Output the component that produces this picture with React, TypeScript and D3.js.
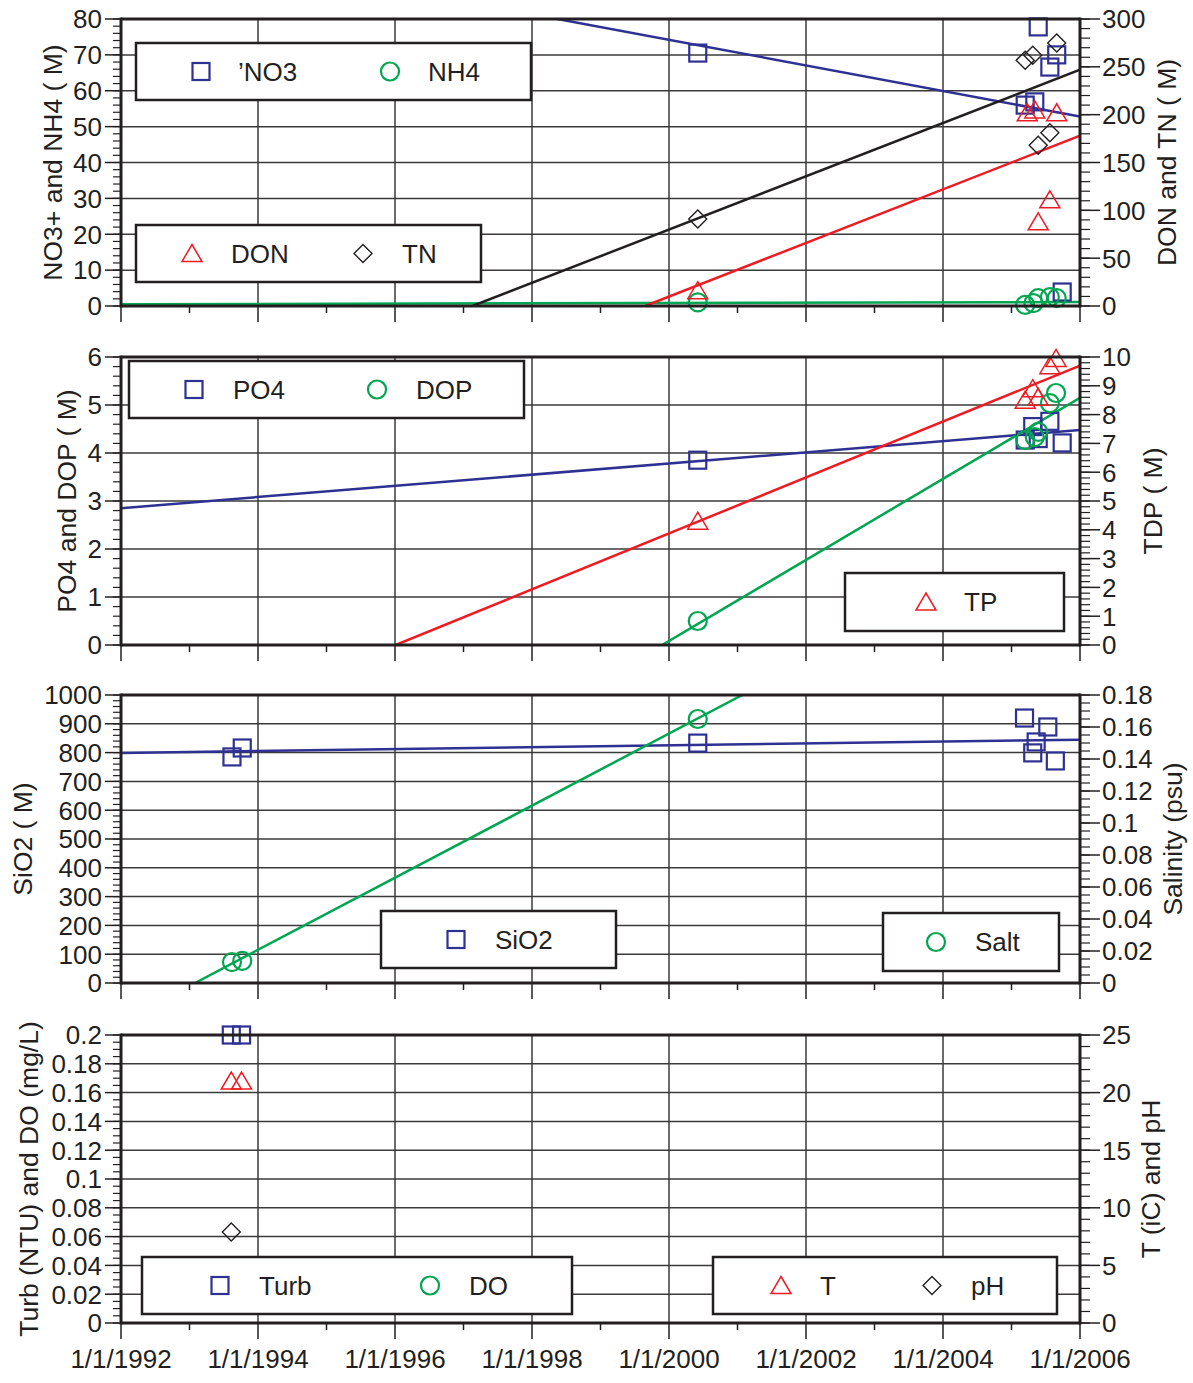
import React from 'react';
import * as d3 from 'd3';

type P = [number, number];

// ---------- x axis ----------
const yearTicks = d3.range(1992, 2007);
const yearLabelYears = [1992, 1994, 1996, 1998, 2000, 2002, 2004, 2006];
const yearLabel = (y: number) => `1/1/${y}`;

// ---------- Panel 1: NO3, NH4 (left) ; DON, TN (right) ----------
const no3: P[] = [[2000.42, 70.5], [2005.20, 56], [2005.34, 56.9], [2005.39, 77.8], [2005.56, 66.6], [2005.66, 70], [2005.74, 3.9]];
const nh4: P[] = [[2000.42, 1.0], [2005.20, 0.3], [2005.32, 0.8], [2005.39, 2.2], [2005.56, 2.5], [2005.66, 2.2]];
const don: P[] = [[2000.42, 16], [2005.23, 202], [2005.34, 205], [2005.39, 88], [2005.56, 111], [2005.66, 202]];
const tn: P[] = [[2000.42, 91], [2005.20, 257], [2005.31, 262], [2005.39, 168], [2005.56, 181], [2005.66, 275]];
const no3Fit: P[] = [[1992, 102.7], [2006, 52.8]];
const nh4Fit: P[] = [[1992, 0.5], [2006, 1.1]];
const donFit: P[] = [[1999.65, 0], [2006, 178]];
const tnFit: P[] = [[1997.13, 0], [2006, 247]];

// ---------- Panel 2: PO4, DOP (left) ; TP (right) ----------
const po4: P[] = [[2000.42, 3.85], [2005.20, 4.27], [2005.31, 4.55], [2005.39, 4.3], [2005.56, 4.66], [2005.74, 4.21]];
const dop: P[] = [[2000.42, 0.5], [2005.20, 4.27], [2005.34, 4.33], [2005.39, 4.44], [2005.56, 5.04], [2005.65, 5.25]];
const tp: P[] = [[2000.42, 4.3], [2005.20, 8.5], [2005.31, 8.9], [2005.39, 8.6], [2005.56, 9.7], [2005.65, 9.95]];
const po4Fit: P[] = [[1992, 2.85], [2006, 4.48]];
const dopFit: P[] = [[1999.9, 0], [2006, 5.15]];
const tpFit: P[] = [[1996.01, 0], [2006, 9.7]];

// ---------- Panel 3: SiO2 (left) ; Salt (right) ----------
const sio2: P[] = [[1993.62, 785], [1993.77, 816], [2000.42, 833], [2005.19, 920], [2005.36, 837], [2005.31, 799], [2005.53, 889], [2005.64, 771]];
const salt: P[] = [[1993.62, 0.0131], [1993.77, 0.0138], [2000.42, 0.165]];
const sio2Fit: P[] = [[1992, 799], [2006, 845]];
const saltFit: P[] = [[1993.08, 0], [2001.07, 0.18]];

// ---------- Panel 4: Turb, DO (left) ; T, pH (right) ----------
const turb: P[] = [[1993.61, 0.2], [1993.76, 0.2]];
const doVals: P[] = [];
const temp: P[] = [[1993.61, 21], [1993.76, 21]];
const ph: P[] = [[1993.61, 7.9]];

const BLUE = '#2e3192';
const GREEN = '#00a651';
const RED = '#ed1c24';
const BLACK = '#231f20';
const FONT = '"Liberation Sans", Arial, Helvetica, sans-serif';
const TICK_FS = 26;
const TITLE_FS = 26.5;
const LEGEND_FS = 26;

const X0 = 121, X1 = 1080;
const x = d3.scaleLinear().domain([1992, 2006]).range([X0, X1]);

type MarkerType = 'square' | 'circle' | 'triangle' | 'diamond';

function Marker({ type, cx, cy, color }: { type: MarkerType; cx: number; cy: number; color: string }) {
  if (type === 'square') return <rect x={cx - 8.5} y={cy - 8.5} width={17} height={17} fill="none" stroke={color} strokeWidth={2.2} />;
  if (type === 'circle') return <circle cx={cx} cy={cy} r={9} fill="none" stroke={color} strokeWidth={2.2} />;
  if (type === 'triangle') return <path d={`M${cx},${cy - 9}L${cx + 10},${cy + 8}L${cx - 10},${cy + 8}Z`} fill="none" stroke={color} strokeWidth={1.5} />;
  return <path d={`M${cx},${cy - 9}L${cx + 9},${cy}L${cx},${cy + 9}L${cx - 9},${cy}Z`} fill="none" stroke={color} strokeWidth={1.4} />;
}

interface Series { data: P[]; axis: 'left' | 'right'; marker: MarkerType; color: string }
interface Fit { data: P[]; axis: 'left' | 'right'; color: string }
interface LegendItem { marker: MarkerType; color: string; label: string; mx: number; tx: number }
interface Legend { x: number; y: number; w: number; h: number; items: LegendItem[] }

interface PanelProps {
  id: string;
  top: number; bottom: number;
  left: { max: number; step: number; minor: number; title: string; tx: number; dec: number };
  right: { max: number; step: number; minor: number; title: string; tx: number; dec: number };
  series: Series[]; fits: Fit[]; legends: Legend[]; xLabels: boolean;
}

const fmt = (v: number, dec: number) => String(+v.toFixed(dec));

function Panel(p: PanelProps) {
  const yl = d3.scaleLinear().domain([0, p.left.max]).range([p.bottom, p.top]);
  const yr = d3.scaleLinear().domain([0, p.right.max]).range([p.bottom, p.top]);
  const lMajor = d3.range(0, Math.round(p.left.max / p.left.step) + 1).map(i => +(i * p.left.step).toFixed(6));
  const lMinor = d3.range(0, Math.round(p.left.max / p.left.minor) + 1).map(i => +(i * p.left.minor).toFixed(6));
  const rMajor = d3.range(0, Math.round(p.right.max / p.right.step) + 1).map(i => +(i * p.right.step).toFixed(6));
  const rMinor = d3.range(0, Math.round(p.right.max / p.right.minor) + 1).map(i => +(i * p.right.minor).toFixed(6));
  const mid = (p.top + p.bottom) / 2;
  const line = (axis: 'left' | 'right') => d3.line<P>().x(d => x(d[0])).y(d => (axis === 'left' ? yl : yr)(d[1]));
  return (
    <g>
      <defs>
        <clipPath id={`clip-${p.id}`}>
          <rect x={X0} y={p.top} width={X1 - X0} height={p.bottom - p.top} />
        </clipPath>
      </defs>
      {/* grid */}
      {lMajor.filter(v => v > 0 && v < p.left.max).map(v => (
        <line key={'gh' + v} x1={X0} x2={X1} y1={yl(v)} y2={yl(v)} stroke="#3a3a3a" strokeWidth={1.5} />
      ))}
      {yearLabelYears.filter(y => y > 1992 && y < 2006).map(y => (
        <line key={'gv' + y} x1={x(y)} x2={x(y)} y1={p.top} y2={p.bottom} stroke="#3a3a3a" strokeWidth={1.5} />
      ))}
      {/* fits */}
      <g clipPath={`url(#clip-${p.id})`}>
        {p.fits.map((f, i) => (
          <path key={'f' + i} d={line(f.axis)(f.data) || ''} fill="none" stroke={f.color} strokeWidth={2.5} />
        ))}
      </g>
      {/* legends */}
      {p.legends.map((lg, i) => (
        <g key={'lg' + i}>
          <rect x={lg.x} y={lg.y} width={lg.w} height={lg.h} fill="#fff" stroke={BLACK} strokeWidth={2.5} />
          {lg.items.map((it, j) => (
            <g key={j}>
              <Marker type={it.marker} cx={it.mx} cy={lg.y + lg.h / 2} color={it.color} />
              <text x={it.tx} y={lg.y + lg.h / 2} dy="0.36em" fontSize={LEGEND_FS} fill={BLACK} fontFamily={FONT}>{it.label}</text>
            </g>
          ))}
        </g>
      ))}
      {/* markers */}
      {p.series.map((s, i) => (
        <g key={'s' + i}>
          {s.data.map((d, j) => (
            <Marker key={j} type={s.marker} cx={x(d[0])} cy={(s.axis === 'left' ? yl : yr)(d[1])} color={s.color} />
          ))}
        </g>
      ))}
      {/* frame */}
      <line x1={X0} x2={X1} y1={p.top} y2={p.top} stroke={BLACK} strokeWidth={3} />
      <line x1={X0} x2={X1} y1={p.bottom} y2={p.bottom} stroke={BLACK} strokeWidth={3} />
      <line x1={X0} x2={X0} y1={p.top - 1.5} y2={p.bottom + 1.5} stroke={BLACK} strokeWidth={3} />
      <line x1={X1} x2={X1} y1={p.top - 1.5} y2={p.bottom + 1.5} stroke={BLACK} strokeWidth={3} />
      {/* left ticks */}
      {lMinor.map(v => <line key={'lm' + v} x1={X0 - 8} x2={X0} y1={yl(v)} y2={yl(v)} stroke={BLACK} strokeWidth={1.2} />)}
      {lMajor.map(v => (
        <g key={'lM' + v}>
          <line x1={X0 - 16} x2={X0} y1={yl(v)} y2={yl(v)} stroke={BLACK} strokeWidth={1.5} />
          <text x={X0 - 19} y={yl(v)} dy="0.36em" textAnchor="end" fontSize={TICK_FS} fill={BLACK} fontFamily={FONT}>{fmt(v, p.left.dec)}</text>
        </g>
      ))}
      {/* right ticks */}
      {rMinor.map(v => <line key={'rm' + v} x1={X1} x2={X1 + 10} y1={yr(v)} y2={yr(v)} stroke={BLACK} strokeWidth={1.2} />)}
      {rMajor.map(v => (
        <g key={'rM' + v}>
          <line x1={X1} x2={X1 + 20} y1={yr(v)} y2={yr(v)} stroke={BLACK} strokeWidth={1.5} />
          <text x={X1 + 22} y={yr(v)} dy="0.36em" textAnchor="start" fontSize={TICK_FS} fill={BLACK} fontFamily={FONT}>{fmt(v, p.right.dec)}</text>
        </g>
      ))}
      {/* bottom ticks */}
      {yearTicks.map(y => (
        <line key={'xt' + y} x1={x(y)} x2={x(y)} y1={p.bottom} y2={p.bottom + (y % 2 === 0 ? 16 : 7)} stroke={BLACK} strokeWidth={1.5} />
      ))}
      {p.xLabels && yearLabelYears.map(y => (
        <text key={'xl' + y} x={x(y)} y={p.bottom + 45} textAnchor="middle" fontSize={TICK_FS} fill={BLACK} fontFamily={FONT}>{yearLabel(y)}</text>
      ))}
      {/* titles */}
      <text transform={`translate(${p.left.tx},${mid}) rotate(-90)`} textAnchor="middle" dy="0.36em" fontSize={TITLE_FS} fill={BLACK} fontFamily={FONT}>{p.left.title}</text>
      <text transform={`translate(${p.right.tx},${mid}) rotate(-90)`} textAnchor="middle" dy="0.36em" fontSize={TITLE_FS} fill={BLACK} fontFamily={FONT}>{p.right.title}</text>
    </g>
  );
}

export default function App() {
  return (
    <svg width={1193} height={1383} style={{ position: 'absolute', left: 0, top: 0, background: '#fff' }}>
      <rect width={1193} height={1383} fill="#fff" />
      <Panel id="p1" top={19} bottom={306} xLabels={false}
        left={{ max: 80, step: 10, minor: 2, title: 'NO3+ and NH4 ( M)', tx: 52, dec: 0 }}
        right={{ max: 300, step: 50, minor: 10, title: 'DON and TN ( M)', tx: 1166, dec: 0 }}
        fits={[{ data: no3Fit, axis: 'left', color: BLUE }, { data: nh4Fit, axis: 'left', color: GREEN }, { data: donFit, axis: 'right', color: RED }, { data: tnFit, axis: 'right', color: BLACK }]}
        series={[{ data: no3, axis: 'left', marker: 'square', color: BLUE }, { data: nh4, axis: 'left', marker: 'circle', color: GREEN }, { data: don, axis: 'right', marker: 'triangle', color: RED }, { data: tn, axis: 'right', marker: 'diamond', color: BLACK }]}
        legends={[
          { x: 136, y: 43, w: 395, h: 57, items: [{ marker: 'square', color: BLUE, label: '’NO3', mx: 201, tx: 238 }, { marker: 'circle', color: GREEN, label: 'NH4', mx: 390, tx: 428 }] },
          { x: 136, y: 225, w: 345, h: 57, items: [{ marker: 'triangle', color: RED, label: 'DON', mx: 192, tx: 231 }, { marker: 'diamond', color: BLACK, label: 'TN', mx: 363, tx: 402 }] },
        ]} />
      <Panel id="p2" top={357} bottom={645} xLabels={false}
        left={{ max: 6, step: 1, minor: 0.2, title: 'PO4 and DOP ( M)', tx: 66, dec: 0 }}
        right={{ max: 10, step: 1, minor: 0.2, title: 'TDP ( M)', tx: 1152, dec: 0 }}
        fits={[{ data: po4Fit, axis: 'left', color: BLUE }, { data: dopFit, axis: 'left', color: GREEN }, { data: tpFit, axis: 'right', color: RED }]}
        series={[{ data: po4, axis: 'left', marker: 'square', color: BLUE }, { data: dop, axis: 'left', marker: 'circle', color: GREEN }, { data: tp, axis: 'right', marker: 'triangle', color: RED }]}
        legends={[
          { x: 129, y: 361, w: 395, h: 57, items: [{ marker: 'square', color: BLUE, label: 'PO4', mx: 194, tx: 233 }, { marker: 'circle', color: GREEN, label: 'DOP', mx: 377, tx: 416 }] },
          { x: 845, y: 573, w: 219, h: 58, items: [{ marker: 'triangle', color: RED, label: 'TP', mx: 926, tx: 964 }] },
        ]} />
      <Panel id="p3" top={695} bottom={983} xLabels={false}
        left={{ max: 1000, step: 100, minor: 20, title: 'SiO2 ( M)', tx: 22, dec: 0 }}
        right={{ max: 0.18, step: 0.02, minor: 0.005, title: 'Salinity (psu)', tx: 1172, dec: 2 }}
        fits={[{ data: sio2Fit, axis: 'left', color: BLUE }, { data: saltFit, axis: 'right', color: GREEN }]}
        series={[{ data: sio2, axis: 'left', marker: 'square', color: BLUE }, { data: salt, axis: 'right', marker: 'circle', color: GREEN }]}
        legends={[
          { x: 381, y: 911, w: 235, h: 57, items: [{ marker: 'square', color: BLUE, label: 'SiO2', mx: 456, tx: 495 }] },
          { x: 883, y: 913, w: 176, h: 58, items: [{ marker: 'circle', color: GREEN, label: 'Salt', mx: 936, tx: 975 }] },
        ]} />
      <Panel id="p4" top={1035} bottom={1323} xLabels={true}
        left={{ max: 0.2, step: 0.02, minor: 0.005, title: 'Turb (NTU) and DO (mg/L)', tx: 28, dec: 2 }}
        right={{ max: 25, step: 5, minor: 1, title: 'T (iC) and pH', tx: 1150, dec: 0 }}
        fits={[]}
        series={[{ data: turb, axis: 'left', marker: 'square', color: BLUE }, { data: doVals, axis: 'left', marker: 'circle', color: GREEN }, { data: temp, axis: 'right', marker: 'triangle', color: RED }, { data: ph, axis: 'right', marker: 'diamond', color: BLACK }]}
        legends={[
          { x: 142, y: 1257, w: 430, h: 57, items: [{ marker: 'square', color: BLUE, label: 'Turb', mx: 220, tx: 259 }, { marker: 'circle', color: GREEN, label: 'DO', mx: 430, tx: 469 }] },
          { x: 713, y: 1257, w: 344, h: 57, items: [{ marker: 'triangle', color: RED, label: 'T', mx: 781, tx: 820 }, { marker: 'diamond', color: BLACK, label: 'pH', mx: 932, tx: 971 }] },
        ]} />
    </svg>
  );
}
